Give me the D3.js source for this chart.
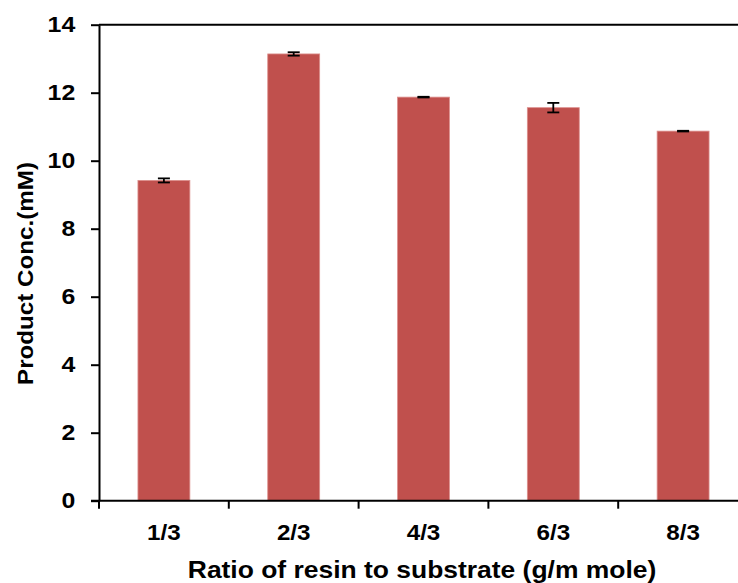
<!DOCTYPE html>
<html>
<head>
<meta charset="utf-8">
<script src="https://cdn.jsdelivr.net/npm/d3@7/dist/d3.min.js"></script>
<style>
  html, body { margin: 0; padding: 0; background: #fff; }
  svg { display: block; }
  text { font-family: "Liberation Sans", Arial, sans-serif; font-weight: bold; fill: #000; }
</style>
</head>
<body>
<svg id="chart" width="738" height="583"></svg>
<script>
// Product concentration for each resin/substrate ratio
const categories = ["1/3", "2/3", "4/3", "6/3", "8/3"];
const concValues = [9.42, 13.14, 11.87, 11.56, 10.87];
const concErrors = [0.06, 0.05, 0.01, 0.14, 0.01];
const yTicks = [0, 2, 4, 6, 8, 10, 12, 14];

const svg = d3.select("#chart");
const plot = { left: 99, top: 24.7, bottom: 500.7, step: 129.8 };
const plotRight = plot.left + plot.step * categories.length;
const stretch = 1.13; // labels are set slightly wide

const x = d3.scaleBand()
  .domain(categories)
  .range([plot.left, plotRight])
  .paddingInner(0.6)
  .paddingOuter(0.3);

const y = d3.scaleLinear().domain([0, 14]).range([plot.bottom, plot.top]);

// bars
svg.append("g").selectAll("rect")
  .data(categories)
  .join("rect")
  .attr("x", d => x(d))
  .attr("y", (d, i) => y(concValues[i]))
  .attr("width", x.bandwidth())
  .attr("height", (d, i) => y(0) - y(concValues[i]))
  .attr("fill", "#c0504d")
  .attr("stroke", "#dc8f8d")
  .attr("stroke-width", 0.8);

// error bars
const eb = svg.append("g").attr("stroke", "#000").attr("stroke-width", 1.8);
categories.forEach((c, i) => {
  const cx = x(c) + x.bandwidth() / 2;
  const hi = y(concValues[i] + concErrors[i]);
  const lo = y(concValues[i] - concErrors[i]);
  eb.append("line").attr("x1", cx).attr("x2", cx).attr("y1", hi).attr("y2", lo);
  eb.append("line").attr("x1", cx - 6).attr("x2", cx + 6).attr("y1", hi).attr("y2", hi);
  eb.append("line").attr("x1", cx - 6).attr("x2", cx + 6).attr("y1", lo).attr("y2", lo);
});

// top border of plot area
svg.append("line")
  .attr("x1", plot.left).attr("x2", plotRight)
  .attr("y1", y(14)).attr("y2", y(14))
  .attr("stroke", "#000").attr("stroke-width", 2);

// y axis
const yAxis = svg.append("g")
  .attr("transform", `translate(${plot.left},0)`)
  .call(d3.axisLeft(y).tickValues(yTicks).tickSize(8).tickSizeOuter(0).tickPadding(13));
yAxis.select(".domain").attr("stroke-width", 2);
yAxis.selectAll(".tick line").attr("stroke-width", 2);
yAxis.selectAll("text")
  .attr("font-size", 22)
  .attr("font-family", null)
  .attr("fill", "#000")
  .attr("transform", `scale(${stretch},1)`);

// x axis: ticks sit on category boundaries
const boundaries = d3.range(categories.length + 1).map(i => plot.left + i * plot.step);
const xAxis = svg.append("g").attr("transform", `translate(0,${plot.bottom})`);
xAxis.append("line")
  .attr("x1", plot.left - 8).attr("x2", plotRight)
  .attr("stroke", "#000").attr("stroke-width", 2);
xAxis.selectAll(".bt").data(boundaries).join("line")
  .attr("class", "bt")
  .attr("x1", d => d).attr("x2", d => d)
  .attr("y1", 0).attr("y2", 8)
  .attr("stroke", "#000").attr("stroke-width", 2);
xAxis.selectAll(".cl").data(categories).join("text")
  .attr("class", "cl")
  .attr("transform", d => `translate(${x(d) + x.bandwidth() / 2},39) scale(1.1,1)`)
  .attr("text-anchor", "middle")
  .attr("font-size", 22)
  .text(d => d);

// axis titles
svg.append("text")
  .attr("transform", "translate(422,578) scale(1.15,1)")
  .attr("text-anchor", "middle")
  .attr("font-size", 23)
  .text("Ratio of resin to substrate (g/m mole)");

svg.append("text")
  .attr("transform", "translate(33,273.5) rotate(-90) scale(1.1,1)")
  .attr("text-anchor", "middle")
  .attr("font-size", 22)
  .text("Product Conc.(mM)");
</script>
</body>
</html>
